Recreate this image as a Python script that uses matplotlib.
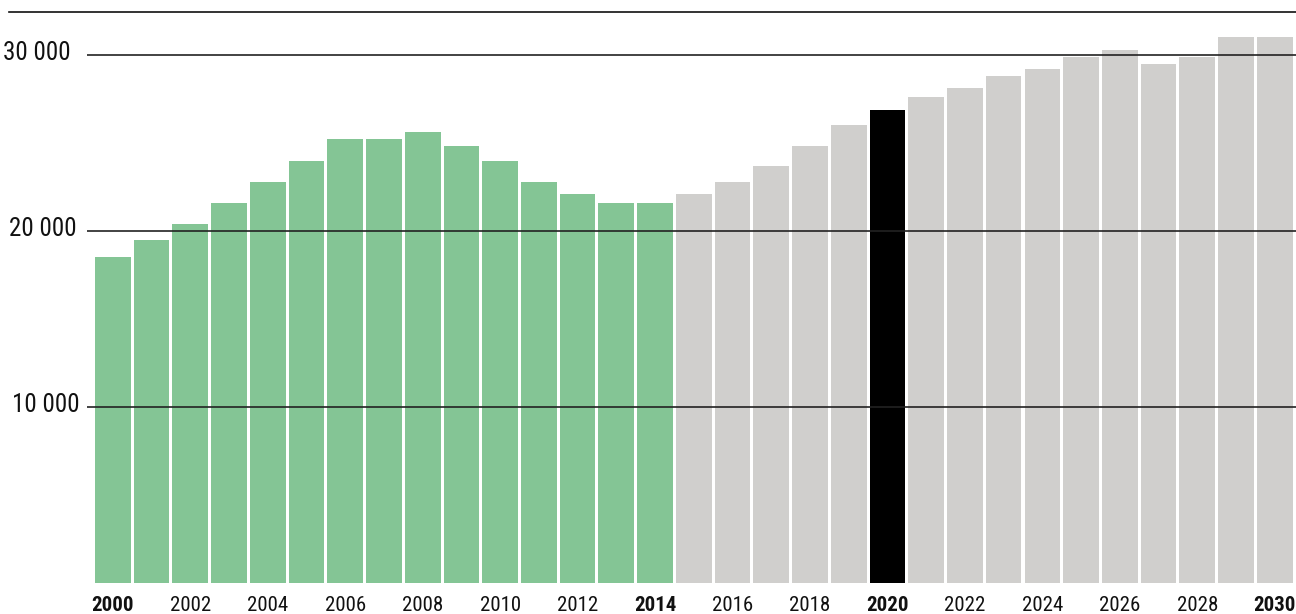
import numpy as np
import matplotlib
matplotlib.use("Agg")
import matplotlib.pyplot as plt
from matplotlib import font_manager
from matplotlib.lines import Line2D

years = list(range(2000, 2031))
values = [18500, 19500, 20400, 21600, 22800, 24000, 25200, 25200, 25600, 24800,
          24000, 22800, 22100, 21600, 21600, 22100, 22800, 23700, 24800, 26000,
          26900, 27600, 28100, 28800, 29200, 29900, 30300, 29500, 29900, 31000,
          31000]
history_end = 2014
highlight_year = 2020
bold_years = [2000, 2014, 2020, 2030]
y_ticks = [10000, 20000, 30000]
y_tick_labels = ["10 000", "20 000", "30 000"]

GREEN = "#84c595"
GREY = "#d0cfcd"
BLACK = "#000000"

# pick a narrow sans if one is installed
installed = {f.name for f in font_manager.fontManager.ttflist}
family = "DejaVu Sans"
for name in ["Roboto Condensed", "Liberation Sans Narrow", "DejaVu Sans Condensed"]:
    if name in installed:
        family = name
        break
plt.rcParams["font.family"] = [family, "DejaVu Sans"]

W, H = 1296, 614
fig = plt.figure(figsize=(W / 100, H / 100), dpi=100)
ax = fig.add_axes([87.3 / W, (H - 582.7) / H, (W - 87.3) / W, (582.7 - 11.7) / H])

colors = []
for yr in years:
    if yr == highlight_year:
        colors.append(BLACK)
    elif yr <= history_end:
        colors.append(GREEN)
    else:
        colors.append(GREY)

x = np.arange(len(years))
ax.bar(x, values, width=0.922, color=colors, zorder=2)

ax.set_xlim(-0.660, 30.549)
ax.set_ylim(0, 32460)

for v in y_ticks:
    ax.axhline(v, color="#222222", lw=1.2, zorder=3)

for s in ax.spines.values():
    s.set_visible(False)
ax.set_xticks([])
ax.set_yticks([])

# y labels sit a touch left of where the grid lines start
label_right = {10000: 80.0, 20000: 76.7, 30000: 71.0}
for v, lab in zip(y_ticks, y_tick_labels):
    ax.annotate(lab, xy=(0, v), xycoords=("axes fraction", "data"),
                xytext=(label_right[v] - 87.3, 2), textcoords="offset pixels",
                ha="right", va="center", fontsize=18, color="#111111")

for i, yr in enumerate(years):
    if yr % 2:
        continue
    ax.annotate(str(yr), xy=(i, 0), xycoords="data",
                xytext=(0, -23), textcoords="offset pixels",
                ha="center", va="center", fontsize=15, color="#111111",
                fontweight="bold" if yr in bold_years else "normal",
                annotation_clip=False)

fig.add_artist(Line2D([9 / W, 1.0], [(H - 11.7) / H] * 2, color="#111111", lw=1.2))

fig.savefig("out.png", dpi=100)
